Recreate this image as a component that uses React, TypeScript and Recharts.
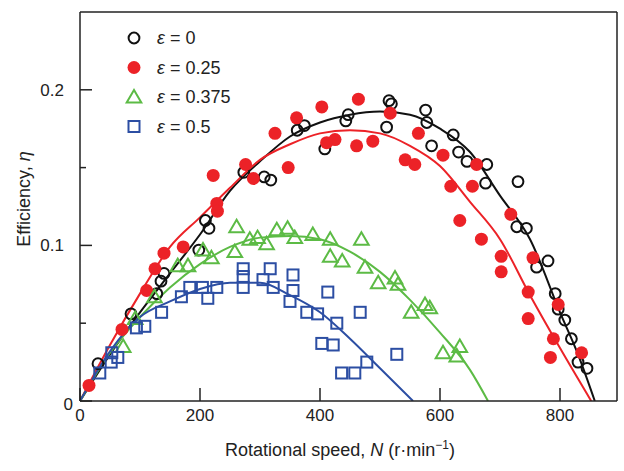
import React from 'react';
import { ComposedChart, Line, Scatter, XAxis, YAxis, ReferenceLine } from 'recharts';

// measured points, [N, efficiency]
const pts0 = [
  [30, 0.024], [85, 0.056], [128, 0.069], [135, 0.077], [140, 0.082], [198, 0.097],
  [209, 0.116], [215, 0.111], [273, 0.147], [307, 0.144], [318, 0.142], [362, 0.174],
  [374, 0.177], [408, 0.162], [443, 0.180], [447, 0.184], [515, 0.193], [519, 0.191],
  [511, 0.176], [576, 0.187], [578, 0.179], [586, 0.164], [622, 0.171], [631, 0.160],
  [645, 0.154], [678, 0.152], [676, 0.140], [730, 0.141], [728, 0.112], [744, 0.111],
  [761, 0.086], [780, 0.090], [792, 0.069], [797, 0.059], [808, 0.052], [819, 0.040],
  [830, 0.025], [845, 0.021],
];
const pts25 = [
  [15, 0.010], [70, 0.046], [111, 0.071], [125, 0.085], [140, 0.095], [172, 0.099],
  [222, 0.145], [228, 0.127], [229, 0.122], [276, 0.152], [289, 0.143], [325, 0.172],
  [347, 0.150], [361, 0.182], [403, 0.189], [411, 0.166], [425, 0.168], [464, 0.194],
  [461, 0.164], [488, 0.167], [517, 0.185], [542, 0.155], [558, 0.152], [564, 0.172],
  [605, 0.158], [618, 0.138], [633, 0.116], [654, 0.138], [661, 0.152], [669, 0.104],
  [702, 0.093], [702, 0.083], [718, 0.120], [747, 0.070], [747, 0.053], [755, 0.092],
  [789, 0.040], [784, 0.028], [797, 0.062], [836, 0.031],
];
const pts375 = [
  [72, 0.035], [92, 0.053], [124, 0.067], [163, 0.087], [180, 0.087], [205, 0.097],
  [219, 0.092], [258, 0.096], [261, 0.112], [283, 0.104], [296, 0.105], [311, 0.101],
  [328, 0.110], [346, 0.111], [358, 0.105], [388, 0.107], [417, 0.104], [469, 0.104],
  [417, 0.093], [437, 0.090], [475, 0.086], [497, 0.076], [525, 0.079], [530, 0.075],
  [552, 0.057], [575, 0.062], [583, 0.060], [605, 0.031], [628, 0.029], [633, 0.035],
];
const pts50 = [
  [33, 0.018], [52, 0.025], [53, 0.031], [63, 0.028], [94, 0.047], [108, 0.048],
  [136, 0.057], [169, 0.067], [183, 0.073], [204, 0.073], [213, 0.066], [228, 0.073],
  [272, 0.085], [272, 0.080], [272, 0.073], [305, 0.078], [317, 0.085], [322, 0.073],
  [355, 0.081], [355, 0.071], [350, 0.064], [378, 0.057], [396, 0.056], [413, 0.070],
  [428, 0.050], [467, 0.057], [403, 0.037], [422, 0.036], [436, 0.018], [458, 0.018],
  [478, 0.025], [528, 0.030],
];

// fitted curves
const fit0 = [
  [0, 0], [50, 0.030], [100, 0.057], [150, 0.082], [200, 0.107], [250, 0.135], [300, 0.154],
  [350, 0.170], [400, 0.179], [450, 0.184], [500, 0.186], [550, 0.184], [600, 0.175],
  [650, 0.160], [700, 0.132], [750, 0.104], [800, 0.057], [830, 0.030], [858, 0],
];
const fit25 = [
  [0, 0], [50, 0.036], [100, 0.069], [150, 0.099], [200, 0.118], [250, 0.137], [300, 0.155],
  [350, 0.165], [400, 0.172], [450, 0.174], [500, 0.172], [550, 0.164], [600, 0.151],
  [650, 0.128], [700, 0.104], [750, 0.068], [800, 0.034], [852, 0],
];
const fit375 = [
  [0, 0], [50, 0.031], [100, 0.054], [150, 0.073], [200, 0.088], [250, 0.099], [300, 0.105],
  [350, 0.106], [400, 0.104], [450, 0.096], [500, 0.083], [550, 0.065], [600, 0.044],
  [650, 0.020], [680, 0],
];
const fit50 = [
  [0, 0], [50, 0.032], [100, 0.054], [150, 0.064], [200, 0.072], [250, 0.076], [300, 0.076],
  [350, 0.068], [400, 0.057], [450, 0.040], [500, 0.021], [555, 0],
];

const xTicks = [0, 200, 400, 600, 800];
const yTicks = [0, 0.05, 0.1, 0.15, 0.2];
const legendLabels = ['0', '0.25', '0.375', '0.5'];

const toXY = (arr: number[][]) => arr.map(([x, y]) => ({ x, y }));

const FONT = '"Liberation Sans", Arial, sans-serif';
const INK = '#222';
const BLACK = '#111';
const RED = '#ec2227';
const GREEN = '#5cbb45';
const BLUE = '#2c4ea3';

const OpenCircle = ({ cx, cy }: any) => (
  <circle cx={cx} cy={cy} r={5.4} fill="none" stroke={BLACK} strokeWidth={2} />
);
const RedDot = ({ cx, cy }: any) => <circle cx={cx} cy={cy} r={6.5} fill={RED} />;
const Tri = ({ cx, cy }: any) => (
  <polygon
    points={`${cx},${cy - 7} ${cx - 7.3},${cy + 5.5} ${cx + 7.3},${cy + 5.5}`}
    fill="none"
    stroke={GREEN}
    strokeWidth={2}
  />
);
const Sq = ({ cx, cy }: any) => (
  <rect x={cx - 5.5} y={cy - 5.5} width={11} height={11} fill="none" stroke={BLUE} strokeWidth={2} />
);
const markers = [OpenCircle, RedDot, Tri, Sq];

const XTick = ({ x, y, payload }: any) => (
  <g>
    <line x1={x} x2={x} y1={y} y2={y - 13} stroke={INK} strokeWidth={1.5} />
    <text x={x} y={y + 20} textAnchor="middle" fontSize={17} fontFamily={FONT} fill={INK}>
      {payload.value}
    </text>
  </g>
);

const YTick = ({ x, y, payload }: any) => {
  const v = payload.value;
  const major = Math.abs(v * 10 - Math.round(v * 10)) < 1e-6;
  return (
    <g>
      <line x1={x} x2={x + (major ? 12 : 6)} y1={y} y2={y} stroke={INK} strokeWidth={1.5} />
      {major && (
        <text
          x={v === 0 ? x - 7 : x - 16}
          y={v === 0 ? y + 3 : y}
          dy="0.35em"
          textAnchor="end"
          fontSize={17}
          fontFamily={FONT}
          fill={INK}
        >
          {v === 0 ? '0' : v.toFixed(1)}
        </text>
      )}
    </g>
  );
};

const Legend = () => (
  <svg width={624} height={471} style={{ position: 'absolute', left: 0, top: 0, pointerEvents: 'none' }}>
    {legendLabels.map((lab, i) => {
      const M = markers[i];
      const cy = 38 + i * 29.5;
      return (
        <g key={lab}>
          <M cx={134} cy={cy} />
          <text x={157} y={cy} dy="0.35em" fontSize={18} fontFamily={FONT} fill={INK}>
            <tspan fontStyle="italic">ε</tspan> = {lab}
          </text>
        </g>
      );
    })}
  </svg>
);

export default function App() {
  return (
    <div style={{ position: 'absolute', left: 0, top: 0, width: 624, height: 471, background: '#fff' }}>
      <ComposedChart width={624} height={471} margin={{ top: 12, right: 7, bottom: 0, left: 0 }}>
        <XAxis
          dataKey="x"
          type="number"
          domain={[0, 895]}
          ticks={xTicks}
          tickSize={0}
          tickMargin={0}
          tick={<XTick />}
          height={70}
          axisLine={{ stroke: INK, strokeWidth: 1.5 }}
          allowDataOverflow
        />
        <YAxis
          dataKey="y"
          type="number"
          domain={[0, 0.25]}
          ticks={yTicks}
          tickSize={0}
          tickMargin={0}
          tick={<YTick />}
          width={80}
          axisLine={{ stroke: INK, strokeWidth: 1.5 }}
          allowDataOverflow
        />
        <ReferenceLine y={0.25} stroke={INK} strokeWidth={1.5} />
        <ReferenceLine x={895} stroke={INK} strokeWidth={1.5} />
        <Line data={toXY(fit0)} dataKey="y" type="monotone" stroke={BLACK} strokeWidth={2} dot={false} isAnimationActive={false} />
        <Line data={toXY(fit25)} dataKey="y" type="monotone" stroke={RED} strokeWidth={2} dot={false} isAnimationActive={false} />
        <Line data={toXY(fit375)} dataKey="y" type="monotone" stroke={GREEN} strokeWidth={2} dot={false} isAnimationActive={false} />
        <Line data={toXY(fit50)} dataKey="y" type="monotone" stroke={BLUE} strokeWidth={2} dot={false} isAnimationActive={false} />
        <Scatter data={toXY(pts0)} dataKey="y" shape={<OpenCircle />} isAnimationActive={false} />
        <Scatter data={toXY(pts25)} dataKey="y" shape={<RedDot />} isAnimationActive={false} />
        <Scatter data={toXY(pts375)} dataKey="y" shape={<Tri />} isAnimationActive={false} />
        <Scatter data={toXY(pts50)} dataKey="y" shape={<Sq />} isAnimationActive={false} />
        <text x={24} y={199} transform="rotate(-90 24 199)" textAnchor="middle" dy="0.35em" fontSize={18} fontFamily={FONT} fill={INK}>
          Efficiency, <tspan fontStyle="italic">η</tspan>
        </text>
        <text x={340} y={450} textAnchor="middle" dy="0.35em" fontSize={18} fontFamily={FONT} fill={INK}>
          Rotational speed, <tspan fontStyle="italic">N</tspan> (r·min<tspan dy="-7" fontSize={12}>−1</tspan><tspan dy="7">)</tspan>
        </text>
      </ComposedChart>
      <Legend />
    </div>
  );
}
